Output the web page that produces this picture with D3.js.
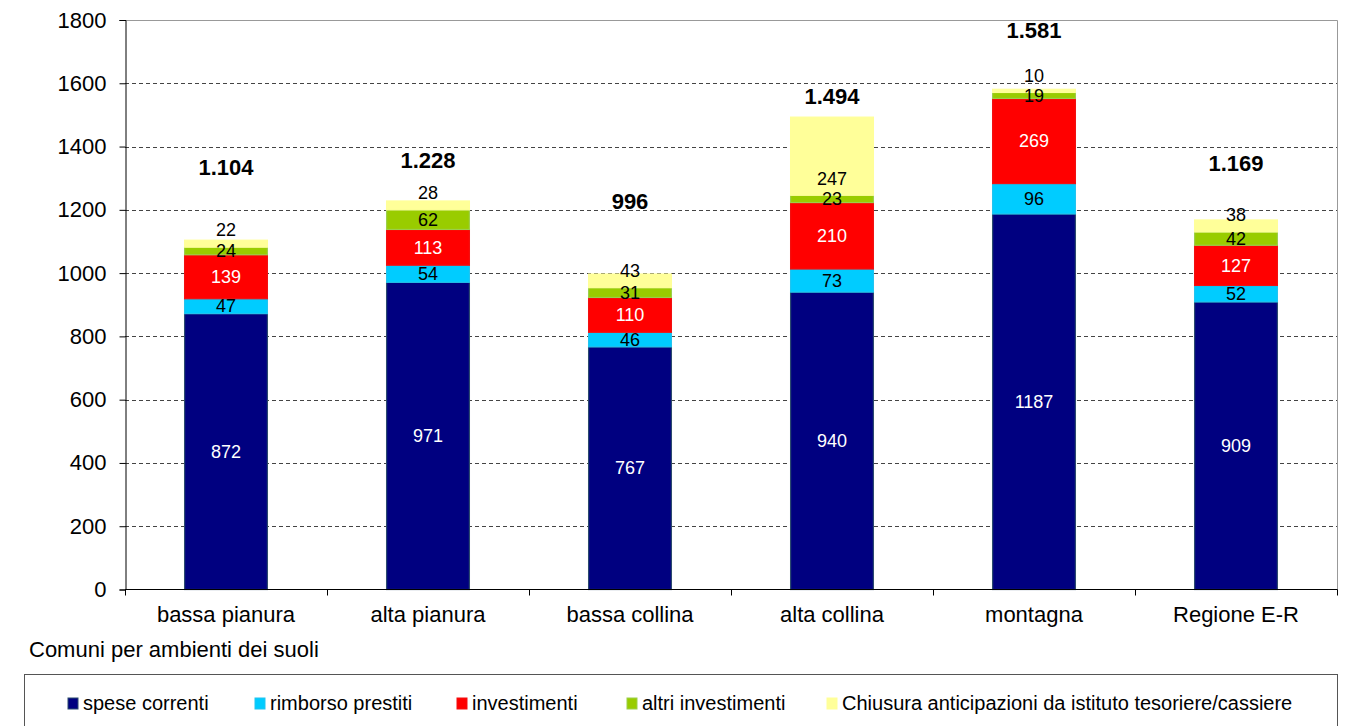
<!DOCTYPE html>
<html>
<head>
<meta charset="utf-8">
<script src="https://cdn.jsdelivr.net/npm/d3@7"></script>
<style>
  body { margin: 0; background: #fff; }
  svg { display: block; font-family: "Liberation Sans", Arial, sans-serif; }
</style>
</head>
<body>
<div id="chart"></div>
<script>
// categories & series
const categories = ['bassa pianura', 'alta pianura', 'bassa collina', 'alta collina', 'montagna', 'Regione E-R']
const speseCorrenti = [872, 971, 767, 940, 1187, 909]
const rimborsoPrestiti = [47, 54, 46, 73, 96, 52]
const investimenti = [139, 113, 110, 210, 269, 127]
const altriInvestimenti = [24, 62, 31, 23, 19, 42]
const chiusuraAnticipazioni = [22, 28, 43, 247, 10, 38]
const totals = [1104, 1228, 996, 1494, 1581, 1169]
// where the bold total label sits (value units, like the hidden label series in the original)
const totalLabelAt = [1336, 1358, 1228, 1560, 1768, 1348]
const yTicks = [0, 200, 400, 600, 800, 1000, 1200, 1400, 1600, 1800]

const seriesInfo = [
  { key: 'spese', name: 'spese correnti', values: speseCorrenti, color: '#000080', stroke: '#2b4a6e', text: '#fff' },
  { key: 'rimborso', name: 'rimborso prestiti', values: rimborsoPrestiti, color: '#00ccff', stroke: '#22c4f0', text: '#000' },
  { key: 'inv', name: 'investimenti', values: investimenti, color: '#ff0000', stroke: '#f21010', text: '#fff' },
  { key: 'altri', name: 'altri investimenti', values: altriInvestimenti, color: '#99cc00', stroke: '#9ccf4a', text: '#000' },
  { key: 'chiusura', name: 'Chiusura anticipazioni da istituto tesoriere/cassiere', values: chiusuraAnticipazioni, color: '#ffff99', stroke: '#ffff99', text: '#000' }
]

const W = 1348, H = 726
const M = { left: 125, right: 1337, top: 20, bottom: 589.5 }

const rows = categories.map((c, i) => {
  const r = { cat: c }
  seriesInfo.forEach(s => { r[s.key] = s.values[i] })
  return r
})
const stacked = d3.stack().keys(seriesInfo.map(s => s.key))(rows)

const x = d3.scaleBand().domain(categories).range([M.left, M.right]).paddingInner(0.59).paddingOuter(0.295)
const y = d3.scaleLinear().domain([0, 1800]).range([M.bottom, M.top])
const it = d3.formatLocale({ decimal: ',', thousands: '.', grouping: [3], currency: ['€', ''] })
const fmtTotal = it.format(',d')

const svg = d3.select('#chart').append('svg').attr('width', W).attr('height', H)

// gridlines
svg.append('g').selectAll('line')
  .data(yTicks.filter(t => t > 0 && t < 1800))
  .enter().append('line')
  .attr('x1', M.left).attr('x2', M.right)
  .attr('y1', d => Math.round(y(d)) + 0.5).attr('y2', d => Math.round(y(d)) + 0.5)
  .attr('stroke', '#444').attr('stroke-dasharray', '4,3').attr('stroke-width', 1)

// plot frame top/right
svg.append('path')
  .attr('d', `M${M.left},${M.top + 0.5}H${M.right + 0.5}V${M.bottom}`)
  .attr('fill', 'none').attr('stroke', '#999')

// bars
const layer = svg.append('g').selectAll('g')
  .data(stacked).enter().append('g')
  .attr('fill', (d, i) => seriesInfo[i].color)
  .attr('stroke', (d, i) => seriesInfo[i].stroke)
layer.selectAll('rect')
  .data(d => d)
  .enter().append('rect')
  .attr('x', d => x(d.data.cat))
  .attr('y', d => y(d[1]))
  .attr('width', x.bandwidth())
  .attr('height', d => y(d[0]) - y(d[1]))
  .attr('stroke-width', 1.2)

// value labels
stacked.forEach((s, i) => {
  const info = seriesInfo[i]
  svg.append('g').selectAll('text')
    .data(s).enter().append('text')
    .attr('x', d => x(d.data.cat) + x.bandwidth() / 2)
    .attr('y', d => info.key === 'chiusura' ? y(d[0]) - 17 : (y(d[0]) + y(d[1])) / 2)
    .attr('dy', '0.35em')
    .attr('text-anchor', 'middle')
    .attr('font-size', 18)
    .attr('fill', info.text)
    .text(d => d.data[info.key])
})

// totals
svg.append('g').selectAll('text')
  .data(categories).enter().append('text')
  .attr('x', d => x(d) + x.bandwidth() / 2)
  .attr('y', (d, i) => y(totalLabelAt[i]))
  .attr('dy', '0.35em')
  .attr('text-anchor', 'middle')
  .attr('font-size', 22).attr('font-weight', 'bold')
  .text((d, i) => fmtTotal(totals[i]))

// y axis
const yAxis = svg.append('g')
  .attr('transform', `translate(${M.left + 0.5},0)`)
  .call(d3.axisLeft(y).tickValues(yTicks).tickSize(6).tickPadding(13).tickFormat(d3.format('d')))
yAxis.select('.domain').attr('stroke', '#000')
yAxis.selectAll('.tick line').attr('stroke', '#000')
yAxis.selectAll('text').attr('font-size', 22).attr('font-family', '"Liberation Sans", Arial, sans-serif').attr('fill', '#000')

// x axis
const xAxisG = svg.append('g').attr('transform', `translate(0,${M.bottom})`)
xAxisG.append('line').attr('x1', M.left).attr('x2', M.right + 0.5).attr('stroke', '#000')
const step = x.step()
xAxisG.selectAll('.xt')
  .data(d3.range(categories.length + 1))
  .enter().append('line')
  .attr('x1', i => M.left + 0.5 + i * step).attr('x2', i => M.left + 0.5 + i * step)
  .attr('y1', 0).attr('y2', 6).attr('stroke', '#000')
xAxisG.selectAll('text')
  .data(categories).enter().append('text')
  .attr('x', d => x(d) + x.bandwidth() / 2)
  .attr('y', 25).attr('dy', '0.35em')
  .attr('text-anchor', 'middle')
  .attr('font-size', 22)
  .text(d => d)

svg.append('text')
  .attr('x', 29).attr('y', 649).attr('dy', '0.35em')
  .attr('font-size', 22)
  .text('Comuni per ambienti dei suoli')

// legend
svg.append('rect')
  .attr('x', 24.5).attr('y', 674.5).attr('width', 1313).attr('height', 70)
  .attr('fill', '#fff').attr('stroke', '#555')
const legendX = [68, 255, 457, 627, 827]
const leg = svg.append('g').selectAll('g')
  .data(seriesInfo).enter().append('g')
  .attr('transform', (d, i) => `translate(${legendX[i]},703)`)
leg.append('rect')
  .attr('x', 0).attr('y', -5).attr('width', 10).attr('height', 11)
  .attr('fill', d => d.color)
  .attr('stroke', d => d.key === 'spese' ? '#2b4a6e' : d.stroke)
leg.append('text')
  .attr('x', 15).attr('dy', '0.35em')
  .attr('font-size', 20)
  .text(d => d.name)
</script>
</body>
</html>
